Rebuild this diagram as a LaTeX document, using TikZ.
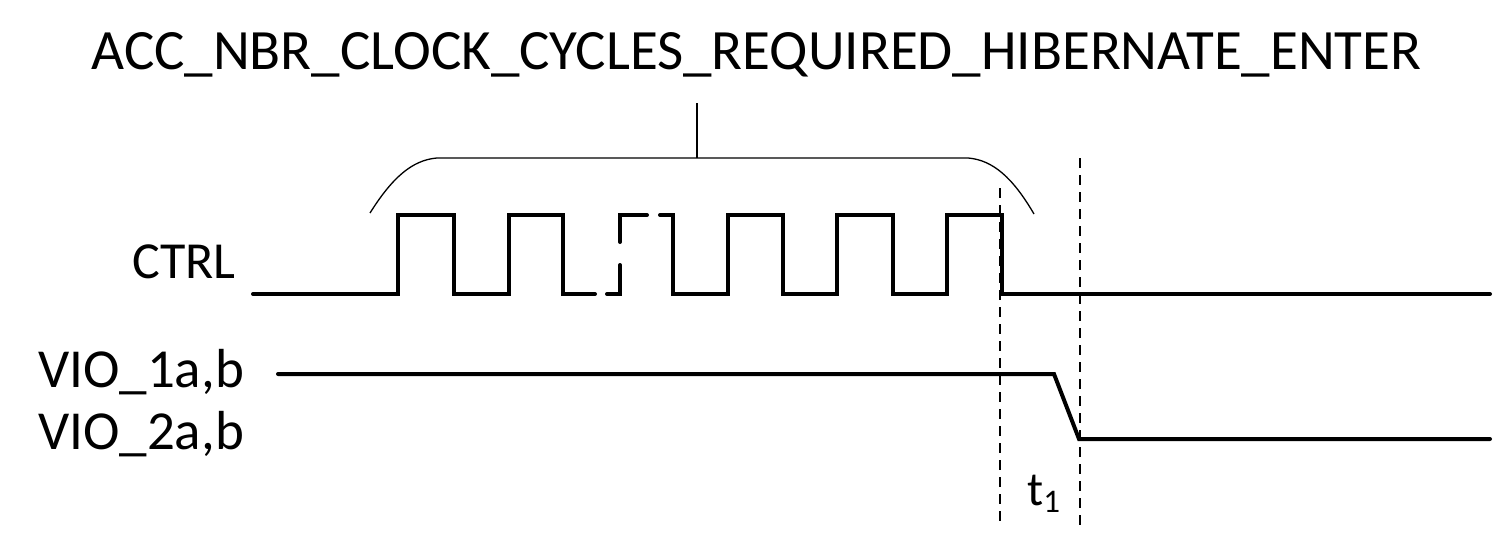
\documentclass[tikz,border=0pt]{standalone}
\usepackage{fontspec}
\setmainfont{Carlito}
\begin{document}
\begin{tikzpicture}[x=1pt,y=-1pt,
  wave/.style={line width=4pt,line cap=round,line join=miter},
  thin/.style={line width=1.3pt},
  marker/.style={line width=1.5pt,dash pattern=on 10pt off 7pt},
  lbl/.style={inner sep=0pt,font=\fontsize{52}{60}\selectfont}]
\useasboundingbox[fill=white] (0,0) rectangle (1500,546);
% texts
\node[lbl,anchor=base,font=\fontsize{57}{64}\selectfont] (title) at (756.5,69) {ACC\_NBR\_CLOCK\_CYCLES\_REQUIRED\_HIBERNATE\_ENTER};
\node[lbl,anchor=base east] (ctrl) at (236,278) {CTRL};
\node[lbl,anchor=base west,font=\fontsize{55}{60}\selectfont] (vio1) at (38,387) {VIO\_1a,b};
\node[lbl,anchor=base west,font=\fontsize{55}{60}\selectfont] (vio2) at (38,449) {VIO\_2a,b};
\node[lbl,anchor=base west,font=\fontsize{48}{52}\selectfont] (t1) at (1027,505) {t\raisebox{-7pt}{\fontsize{33}{36}\selectfont 1}};
% brace
\coordinate (bl) at (370,213);
\coordinate (br) at (1034,214);
\coordinate (bm) at (697,158);
\coordinate (bt) at (697,103);
\draw[thin] (bl) .. controls (392,178) and (412,160) .. (437,158) -- (968,158) .. controls (993,160) and (1013,178) .. (br);
\draw[thin] (bm) -- (bt);
% CTRL waveform
\draw[wave] (253,294) -- (398,294) -- (398,215) -- (454,215) -- (454,294) -- (509,294) -- (509,215) -- (563,215) -- (563,294) -- (595,294);
\draw[wave] (607,294) -- (620,294) -- (620,265);
\draw[wave] (620,242) -- (620,215) -- (647,215);
\draw[wave] (660,215) -- (673,215) -- (673,294) -- (728,294) -- (728,215) -- (783,215) -- (783,294) -- (837,294) -- (837,215) -- (893,215) -- (893,294) -- (947,294) -- (947,215) -- (1002,215) -- (1002,294) -- (1490,294);
% VIO waveform
\draw[wave] (278,374) -- (1054,374) -- (1079,439) -- (1490,439);
% markers
\coordinate (m1t) at (1000,188);
\coordinate (m1b) at (1000,528);
\coordinate (m2t) at (1080,158);
\coordinate (m2b) at (1080,525);
\draw[marker] (m1t) -- (m1b);
\draw[marker] (m2t) -- (m2b);
\end{tikzpicture}
\end{document}
